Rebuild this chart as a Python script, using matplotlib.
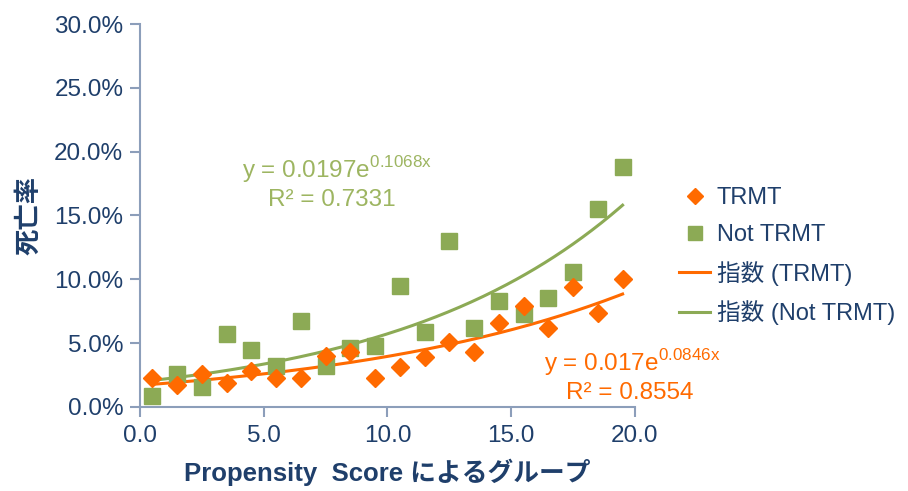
import numpy as np
import matplotlib.pyplot as plt
from matplotlib.lines import Line2D

plt.rcParams['font.family'] = ['Liberation Sans', 'Noto Sans CJK JP', 'DejaVu Sans']
plt.rcParams['mathtext.fontset'] = 'custom'
plt.rcParams['mathtext.rm'] = 'Liberation Sans'

# données (taux de mortalité en %)
groupes = np.arange(0.5, 20, 1.0)
trmt = [2.3, 1.7, 2.6, 1.9, 2.8, 2.3, 2.3, 4.0, 4.3, 2.3,
        3.1, 3.9, 5.1, 4.3, 6.6, 7.9, 6.2, 9.4, 7.4, 10.0]
not_trmt = [0.9, 2.6, 1.6, 5.7, 4.5, 3.2, 6.7, 3.2, 4.6, 4.8,
            9.5, 5.9, 13.0, 6.2, 8.3, 7.3, 8.5, 10.6, 15.5, 18.8]

# courbes de tendance exponentielles (équations affichées)
a_trmt, b_trmt = 0.017, 0.0846
a_not, b_not = 0.0197, 0.1068

orange = "#FF6A00"
vert = "#8CAA55"
bleu = "#1F3F6B"
axe = "#8C9EBA"

fig = plt.figure(figsize=(9.08, 4.91), dpi=100)
ax = fig.add_axes([0.1542, 0.1711, 0.5451, 0.780])

xs = np.linspace(groupes[0], groupes[-1], 200)
ax.plot(xs, 100 * a_trmt * np.exp(b_trmt * xs), color=orange, lw=2.2, zorder=2)
ax.plot(xs, 100 * a_not * np.exp(b_not * xs), color=vert, lw=2.2, zorder=2)
ax.plot(groupes, not_trmt, 's', color=vert, ms=11, zorder=3, ls='none')
ax.plot(groupes, trmt, 'D', color=orange, ms=9, zorder=4, ls='none')

ax.set_xlim(0, 20)
ax.set_ylim(0, 30)
ax.set_xticks([0, 5, 10, 15, 20])
ax.set_xticklabels(["0.0", "5.0", "10.0", "15.0", "20.0"])
ax.set_yticks(range(0, 31, 5))
ax.set_yticklabels([f"{v:.1f}%" for v in range(0, 31, 5)])

for s in ["top", "right"]:
    ax.spines[s].set_visible(False)
for s in ["left", "bottom"]:
    ax.spines[s].set_color(axe)
    ax.spines[s].set_linewidth(1.5)
ax.tick_params(colors=axe, width=1.5, length=7, labelcolor=bleu, labelsize=17.5)
ax.tick_params(axis='x', pad=6)
ax.tick_params(axis='y', pad=5)

ax.set_xlabel("Propensity  Score によるグループ", fontsize=18.5, fontweight='bold', color=bleu, labelpad=8)
ax.set_ylabel("死亡率", fontsize=19, fontweight='bold', color=bleu, labelpad=9)

ax.text(7.95, 18.6, r"y = 0.0197e$^{\mathregular{0.1068x}}$", color="#9DB561", fontsize=17.5, ha='center', va='center')
ax.text(7.75, 16.2, "R² = 0.7331", color="#9DB561", fontsize=17.5, ha='center', va='center')
ax.text(19.9, 3.5, r"y = 0.017e$^{\mathregular{0.0846x}}$", color=orange, fontsize=17.5, ha='center', va='center', clip_on=False)
ax.text(19.8, 1.1, "R² = 0.8554", color=orange, fontsize=17.5, ha='center', va='center', clip_on=False)

handles = [
    Line2D([], [], marker='D', color=orange, ls='none', ms=8),
    Line2D([], [], marker='s', color=vert, ls='none', ms=10),
    Line2D([], [], color=orange, lw=2.2),
    Line2D([], [], color=vert, lw=2.2),
]
labels = ["TRMT", "Not TRMT", "指数 (TRMT)", "指数 (Not TRMT)"]
leg = fig.legend(handles, labels, loc='center left', bbox_to_anchor=(0.748, 0.478),
                 frameon=False, fontsize=17, handlelength=1.3, handletextpad=0.3,
                 labelspacing=0.62, borderpad=0, borderaxespad=0)
for t in leg.get_texts():
    t.set_color(bleu)

fig.savefig("out.png", dpi=100)
